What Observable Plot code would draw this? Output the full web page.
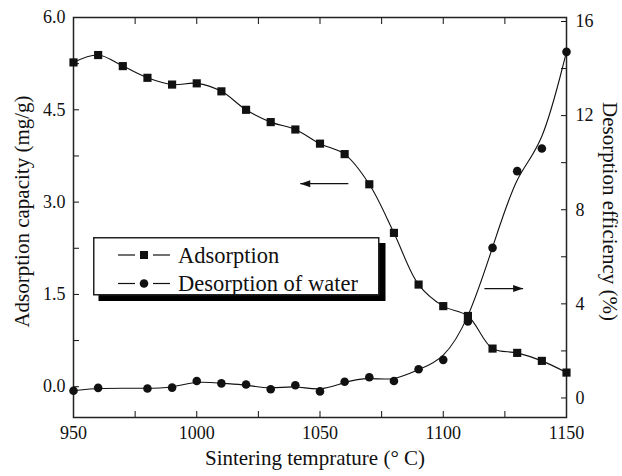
<!DOCTYPE html>
<html><head><meta charset="utf-8">
<script src="https://cdn.jsdelivr.net/npm/d3@7"></script>
<script src="https://cdn.jsdelivr.net/npm/@observablehq/plot@0.6"></script>
<style>
body{margin:0;background:#fff;}
#wrap{position:relative;width:622px;height:476px;}
#wrap, #wrap svg, #wrap svg text{font-family:"Liberation Serif","Times New Roman",Times,"DejaVu Serif","Noto Serif",serif !important;}
#legend{position:absolute;left:93px;top:237px;width:286px;height:58px;}
</style></head><body><div id="wrap"><div id="legend"></div></div>
<script>
// Adsorption capacity (mg/g), left axis
const adsTemps = [950,960,970,980,990,1000,1010,1020,1030,1040,1050,1060,1070,1080,1090,1100,1110,1120,1130,1140,1150];
const adsorption = [5.27,5.39,5.21,5.02,4.91,4.93,4.80,4.50,4.30,4.18,3.95,3.78,3.29,2.50,1.66,1.31,1.15,0.62,0.55,0.42,0.23];
// Desorption efficiency (%), right axis
const desTemps = [950,960,980,990,1000,1010,1020,1030,1040,1050,1060,1070,1080,1090,1100,1110,1120,1130,1140,1150];
const desorption = [0.14,0.26,0.23,0.27,0.55,0.45,0.40,0.20,0.37,0.11,0.52,0.71,0.55,1.05,1.45,3.08,6.21,9.47,10.43,14.54];

const xDomain = [950, 1150];
const leftDomain = [-0.5, 6.0];
const rightDomain = [-1, 16];
const xTicks = d3.range(950, 1151, 25);
const xLabels = [950, 1000, 1050, 1100, 1150];
const leftTicks = d3.range(0, 6.01, 0.75);
const leftLabels = [0, 1.5, 3.0, 4.5, 6.0];
const rightTicks = d3.range(0, 16.1, 2);
const rightLabels = [0, 4, 8, 12, 16];

// arrows pointing to the relevant axis
const arrowLeft = {x1: 1061.5, x2: 1042, y: 3.30, axis: "left"};
const arrowRight = {x1: 1116.7, x2: 1132.4, y: 4.48, axis: "right"};

const toLeft = r => leftDomain[0] + (r - rightDomain[0]) * (leftDomain[1] - leftDomain[0]) / (rightDomain[1] - rightDomain[0]);
const toRight = l => rightDomain[0] + (l - leftDomain[0]) * (rightDomain[1] - rightDomain[0]) / (leftDomain[1] - leftDomain[0]);

const adsData = adsTemps.map((t, i) => ({t, v: adsorption[i]}));
const desData = desTemps.map((t, i) => ({t, v: toLeft(desorption[i])}));
const arrows = [arrowLeft, {...arrowRight, y: toLeft(arrowRight.y)}];

const ink = "#111";
const font = "\"Liberation Serif\",\"Times New Roman\",Times,\"DejaVu Serif\",serif";

const chart = Plot.plot({
  width: 622, height: 476,
  marginLeft: 73, marginRight: 56, marginTop: 17, marginBottom: 59,
  style: `font-family: ${font}; font-size: 18px; color: ${ink}; background: #fff;`,
  x: {domain: xDomain},
  y: {domain: leftDomain},
  marks: [
    Plot.axisX(xTicks, {anchor: "bottom", tickSize: -6, tickPadding: 15, label: null,
      tickFormat: d => xLabels.includes(d) ? String(d) : ""}),
    Plot.axisX(xTicks, {anchor: "top", tickSize: -6, label: null, tickFormat: () => ""}),
    Plot.axisY(leftTicks, {anchor: "left", tickSize: -6, tickPadding: 14, label: null,
      tickFormat: d => leftLabels.some(l => Math.abs(l - d) < 1e-9) ? d.toFixed(1) : ""}),
    Plot.axisY(rightTicks.map(toLeft), {anchor: "right", tickSize: -6, tickPadding: 15, label: null, dy: 4,
      tickFormat: d => { const r = Math.round(toRight(d)); return rightLabels.includes(r) ? String(r) : ""; }}),
    Plot.frame({stroke: "#222", strokeWidth: 1.5}),
    Plot.line(adsData, {x: "t", y: "v", curve: "catmull-rom", stroke: ink, strokeWidth: 1.1}),
    Plot.line(desData, {x: "t", y: "v", curve: "basis", stroke: ink, strokeWidth: 1.1}),
    Plot.dot(adsData, {x: "t", y: "v", symbol: "square", r: 4.6, fill: ink, stroke: "none"}),
    Plot.dot(desData, {x: "t", y: "v", symbol: "circle", r: 4.3, fill: ink, stroke: "none"}),
    Plot.link(arrows, {x1: "x1", x2: "x2", y1: "y", y2: "y", stroke: ink, strokeWidth: 1.3}),
    Plot.vector(arrows, {x: "x2", y: "y", rotate: d => d.axis === "left" ? -90 : 90, length: 10, r: 3.5,
      shape: "spike", anchor: "end", fill: ink, stroke: "none"}),
    Plot.text(["Sintering temprature (° C)"], {frameAnchor: "bottom", textAnchor: "middle", lineAnchor: "middle",
      dx: -5, dy: 41, fontSize: 21, fill: ink}),
    Plot.text(["Adsorption capacity (mg/g)"], {frameAnchor: "left", textAnchor: "middle", lineAnchor: "middle",
      rotate: -90, dx: -51, dy: -6, fontSize: 21, fill: ink}),
    Plot.text(["Desorption efficiency (%)"], {frameAnchor: "right", textAnchor: "middle", lineAnchor: "middle",
      rotate: 90, dx: 43, dy: -6, fontSize: 21, fill: ink})
  ]
});
document.getElementById("wrap").prepend(chart);

// legend
const legendItems = [
  {label: "Adsorption", symbol: "square"},
  {label: "Desorption of water", symbol: "circle"}
];
const lg = d3.select("#legend").append("svg").attr("width", 300).attr("height", 70)
  .style("overflow", "visible").style("font-family", font);
lg.append("rect").attr("x", 5.5).attr("y", 6).attr("width", 287).attr("height", 58).attr("fill", "#000");
lg.append("rect").attr("x", 0.75).attr("y", 0.75).attr("width", 285).attr("height", 57)
  .attr("fill", "#fff").attr("stroke", "#222").attr("stroke-width", 1.5);
legendItems.forEach((it, i) => {
  const cy = 18 + i * 28.5;
  const g = lg.append("g");
  g.append("line").attr("x1", 25).attr("x2", 42).attr("y1", cy).attr("y2", cy).attr("stroke", ink).attr("stroke-width", 1.2);
  g.append("line").attr("x1", 60).attr("x2", 77).attr("y1", cy).attr("y2", cy).attr("stroke", ink).attr("stroke-width", 1.2);
  if (it.symbol === "square") g.append("rect").attr("x", 47).attr("y", cy - 4).attr("width", 8).attr("height", 8).attr("fill", ink);
  else g.append("circle").attr("cx", 51).attr("cy", cy).attr("r", 4.3).attr("fill", ink);
  g.append("text").attr("x", 85).attr("y", cy + 7.5).attr("font-size", 22.5).attr("fill", ink).text(it.label);
});
</script></body></html>
